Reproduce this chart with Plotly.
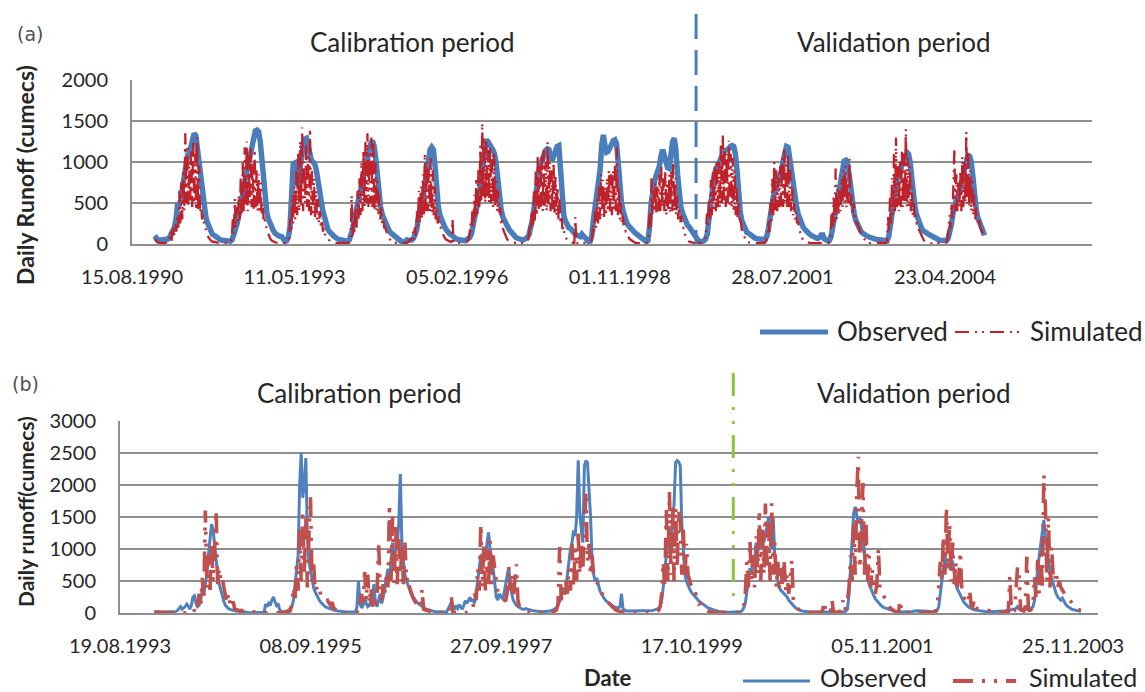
import pandas as pd
import plotly.graph_objects as go

# ---------------- Panel (a): daily runoff, 1991-2004 ----------------
YEARS_A = list(range(1991, 2005))

# observed runoff (cumecs), one row per calendar year, evenly spaced through the year
OBS_A = [
    [100, 70, 50, 45, 45, 45, 50, 55, 60, 80, 120, 160, 200, 300, 500, 480, 550, 700, 850, 1000, 1080, 1100, 1200, 1300, 1350, 1320, 1150, 950, 720, 550, 420, 340, 260, 200, 150, 120],
    [110, 90, 70, 60, 50, 45, 40, 35, 35, 30, 35, 50, 100, 180, 250, 330, 420, 550, 700, 800, 900, 980, 1050, 1150, 1280, 1380, 1390, 1370, 1250, 1000, 700, 500, 380, 300, 240, 200],
    [160, 130, 110, 100, 95, 90, 60, 30, 40, 80, 200, 700, 980, 990, 800, 700, 900, 1100, 1200, 1280, 1290, 1200, 1080, 1020, 1000, 980, 900, 800, 650, 520, 400, 300, 230, 180, 150, 120],
    [110, 90, 70, 60, 55, 50, 40, 35, 30, 30, 50, 100, 180, 300, 400, 480, 560, 680, 800, 900, 1000, 1080, 1150, 1220, 1260, 1200, 1050, 800, 600, 450, 360, 300, 250, 200, 170, 140],
    [120, 100, 90, 70, 50, 40, 25, 15, 30, 50, 45, 40, 50, 70, 110, 180, 350, 480, 520, 600, 750, 900, 1050, 1150, 1180, 1150, 950, 650, 450, 350, 280, 240, 200, 170, 140, 120],
    [110, 90, 75, 60, 55, 50, 40, 30, 40, 50, 60, 80, 120, 200, 320, 420, 520, 620, 820, 1020, 1180, 1270, 1250, 1200, 1180, 1150, 1100, 980, 780, 550, 420, 330, 280, 240, 200, 170],
    [150, 120, 100, 80, 70, 60, 55, 50, 55, 60, 80, 120, 200, 300, 450, 650, 800, 900, 980, 1050, 1100, 1140, 1160, 1150, 1050, 1020, 1080, 1150, 1190, 1200, 900, 500, 350, 280, 230, 200],
    [190, 160, 140, 120, 105, 95, 90, 120, 100, 60, 45, 30, 35, 100, 300, 450, 550, 700, 900, 1200, 1330, 1200, 1120, 1130, 1180, 1230, 1260, 1270, 1220, 1000, 700, 500, 400, 320, 270, 230],
    [200, 175, 160, 140, 125, 110, 90, 70, 50, 35, 30, 40, 200, 500, 680, 760, 830, 880, 950, 1080, 1150, 1080, 980, 930, 920, 1100, 1250, 1290, 1150, 850, 600, 450, 380, 320, 270, 230],
    [210, 180, 150, 110, 80, 50, 30, 25, 30, 40, 60, 120, 300, 500, 650, 800, 900, 950, 1000, 1050, 1100, 1120, 1140, 1150, 1160, 1190, 1200, 1190, 1100, 900, 550, 380, 280, 220, 170, 140],
    [130, 110, 95, 80, 70, 65, 60, 55, 55, 55, 60, 90, 180, 330, 480, 580, 640, 700, 780, 850, 900, 1020, 1140, 1190, 1180, 1020, 830, 700, 600, 470, 370, 300, 250, 210, 180, 150],
    [140, 120, 105, 90, 80, 75, 70, 80, 110, 110, 60, 40, 40, 45, 90, 200, 330, 430, 520, 640, 780, 930, 1010, 1020, 980, 850, 650, 480, 370, 290, 230, 190, 160, 135, 115, 100],
    [95, 85, 75, 70, 65, 60, 55, 50, 45, 40, 35, 30, 40, 90, 250, 430, 580, 680, 780, 840, 890, 940, 1000, 1060, 1120, 1100, 1000, 800, 580, 440, 350, 280, 230, 190, 160, 140],
    [130, 120, 110, 95, 85, 75, 65, 55, 45, 40, 35, 30, 40, 70, 140, 240, 380, 480, 540, 590, 640, 730, 830, 930, 1030, 1080, 1070, 1000, 820, 550, 420, 320, 260, 200, 150, 105],
]

# simulated runoff (cumecs), one row per calendar year
SIM_A = [
    [60, 40, 30, 20, 15, 10, 10, 10, 10, 10, 10, 15, 20, 30, 20, 60, 150, 40, 120, 200, 100, 250, 150, 350, 200, 650, 250, 750, 300, 900, 400, 1350, 500, 1200, 450, 1000, 500, 1150, 450, 1250, 500, 1100, 420, 1300, 400, 950, 380, 500, 300, 350, 250, 200, 160, 120, 90, 70, 50, 40, 30, 25],
    [30, 25, 20, 15, 12, 10, 10, 10, 10, 10, 10, 10, 10, 10, 10, 15, 20, 30, 80, 300, 120, 550, 200, 450, 250, 600, 300, 800, 350, 1000, 400, 1180, 450, 1250, 400, 1100, 500, 1200, 450, 1000, 400, 1150, 450, 900, 400, 850, 380, 750, 350, 500, 300, 350, 220, 200, 150, 110, 80, 60, 45, 35],
    [30, 25, 20, 18, 15, 12, 10, 10, 10, 10, 10, 10, 10, 15, 20, 40, 100, 300, 150, 600, 250, 700, 300, 900, 350, 1100, 400, 1250, 450, 1420, 400, 1000, 500, 1200, 450, 1100, 400, 1400, 350, 900, 350, 800, 300, 650, 300, 550, 250, 400, 200, 300, 150, 200, 120, 100, 80, 60, 45, 35, 30, 25],
    [25, 20, 18, 15, 12, 10, 10, 10, 10, 10, 10, 10, 10, 10, 10, 12, 15, 20, 30, 590, 80, 300, 150, 450, 200, 650, 300, 800, 350, 1000, 400, 1150, 450, 1250, 500, 1350, 450, 1100, 500, 1300, 450, 1250, 400, 1000, 400, 800, 350, 600, 300, 450, 250, 300, 200, 200, 150, 120, 90, 70, 50, 35],
    [30, 25, 20, 15, 12, 10, 10, 10, 10, 10, 10, 10, 10, 10, 12, 15, 20, 30, 60, 40, 80, 150, 60, 200, 100, 400, 200, 650, 250, 700, 300, 850, 350, 1100, 400, 1000, 400, 950, 400, 1050, 380, 900, 350, 700, 300, 500, 250, 350, 200, 200, 150, 120, 100, 80, 60, 50, 40, 35, 30, 25],
    [30, 300, 25, 15, 12, 10, 10, 10, 10, 10, 10, 10, 10, 12, 15, 20, 30, 50, 100, 250, 150, 400, 200, 600, 300, 800, 350, 900, 450, 1200, 500, 1470, 550, 1300, 500, 1250, 550, 1150, 500, 1200, 500, 1050, 450, 1100, 450, 800, 400, 650, 350, 450, 250, 300, 180, 150, 110, 80, 60, 45, 35, 30],
    [25, 20, 18, 15, 12, 10, 10, 10, 10, 10, 10, 10, 10, 10, 12, 15, 20, 40, 100, 250, 120, 400, 200, 650, 250, 900, 350, 1060, 400, 950, 450, 1100, 400, 1150, 450, 1000, 400, 1240, 450, 1000, 400, 900, 400, 1000, 380, 850, 350, 700, 300, 550, 250, 350, 180, 220, 120, 90, 60, 40, 30, 25],
    [25, 20, 18, 15, 12, 330, 12, 10, 10, 10, 10, 10, 10, 10, 10, 10, 10, 10, 10, 10, 15, 30, 80, 250, 150, 400, 200, 550, 250, 700, 300, 850, 350, 780, 300, 700, 350, 800, 400, 900, 400, 850, 350, 900, 400, 950, 400, 1180, 350, 700, 300, 500, 250, 350, 200, 250, 150, 150, 100, 80],
    [60, 50, 40, 30, 25, 20, 15, 12, 10, 10, 10, 10, 10, 10, 10, 10, 10, 15, 30, 100, 400, 200, 800, 350, 650, 400, 750, 350, 700, 400, 850, 400, 940, 450, 800, 400, 900, 350, 750, 400, 850, 380, 900, 400, 1000, 400, 800, 350, 600, 300, 450, 250, 350, 200, 200, 150, 100, 70, 50, 35],
    [30, 25, 20, 15, 12, 10, 10, 10, 10, 10, 10, 10, 10, 12, 15, 20, 40, 150, 370, 200, 550, 300, 780, 350, 900, 400, 950, 400, 1020, 450, 1000, 450, 1200, 500, 1330, 500, 1150, 450, 1100, 500, 1260, 450, 1100, 450, 1050, 400, 900, 350, 700, 300, 500, 250, 300, 180, 150, 100, 70, 50, 35, 25],
    [20, 15, 12, 10, 10, 10, 10, 10, 10, 10, 10, 10, 10, 10, 10, 12, 15, 20, 40, 100, 300, 150, 500, 250, 800, 350, 1000, 400, 900, 400, 800, 450, 950, 450, 1050, 450, 1180, 500, 1000, 450, 1100, 450, 900, 400, 700, 350, 500, 300, 400, 250, 280, 180, 150, 100, 70, 50, 40, 30, 25, 20],
    [20, 15, 12, 10, 10, 10, 10, 10, 10, 10, 10, 10, 10, 10, 10, 10, 10, 10, 10, 10, 12, 15, 40, 150, 400, 200, 600, 250, 920, 300, 700, 350, 650, 400, 800, 450, 900, 500, 950, 450, 800, 500, 1040, 450, 600, 350, 500, 300, 350, 250, 250, 200, 180, 150, 120, 100, 80, 60, 45, 30],
    [15, 12, 10, 10, 10, 10, 10, 10, 10, 10, 10, 10, 10, 10, 10, 10, 10, 10, 12, 15, 30, 330, 150, 600, 250, 800, 350, 1100, 400, 1300, 450, 950, 400, 1000, 450, 1150, 450, 1100, 500, 1400, 450, 1050, 450, 950, 400, 700, 350, 500, 300, 350, 250, 250, 180, 150, 120, 90, 70, 50, 35, 25],
    [25, 20, 15, 12, 10, 10, 10, 10, 10, 10, 10, 10, 10, 10, 10, 10, 10, 10, 12, 15, 25, 60, 150, 350, 180, 500, 300, 800, 1160, 400, 850, 400, 750, 450, 900, 400, 1060, 450, 1000, 500, 1370, 500, 1100, 450, 900, 400, 800, 350, 600, 300, 450, 370, 250, 300, 200, 180, 140, 120, 100, 90],
]

TICKS_A = ["15.08.1990", "11.05.1993", "05.02.1996", "01.11.1998", "28.07.2001", "23.04.2004"]
YTICKS_A = [0, 500, 1000, 1500, 2000]
SPLIT_A = "2000-02-13"

# ---------------- Panel (b): daily runoff, 1994-2003 ----------------
YEARS_B = list(range(1994, 2004))

OBS_B = [
    [20, 18, 15, 15, 15, 15, 15, 15, 15, 15, 15, 15, 20, 20, 25, 40, 70, 100, 60, 80, 100, 140, 110, 60, 120, 250, 270, 150, 100, 120, 200, 350, 300, 450, 600, 900, 1200, 1390, 1300, 1050, 800, 600, 450, 350, 250, 180, 120, 90, 70, 55, 45, 40, 35, 30, 25, 20, 20, 18, 15, 15],
    [5, 5, 5, 5, 5, 5, 5, 5, 5, 5, 5, 10, 140, 100, 150, 120, 200, 250, 180, 120, 150, 60, 20, 15, 20, 20, 25, 40, 80, 100, 200, 450, 600, 900, 2000, 2500, 1800, 2000, 2420, 1200, 800, 650, 500, 400, 330, 280, 230, 190, 160, 130, 110, 90, 80, 70, 60, 50, 45, 40, 35, 30],
    [25, 20, 18, 15, 15, 15, 15, 15, 15, 15, 20, 80, 500, 150, 80, 120, 250, 150, 100, 120, 180, 250, 450, 150, 100, 200, 300, 150, 250, 400, 550, 690, 500, 800, 1100, 900, 1000, 1050, 1400, 2170, 1100, 800, 600, 500, 420, 350, 300, 260, 220, 190, 160, 140, 120, 100, 85, 70, 60, 50, 45, 40],
    [30, 25, 22, 20, 20, 18, 15, 15, 15, 20, 60, 120, 170, 100, 60, 100, 70, 130, 90, 60, 120, 190, 150, 200, 245, 180, 220, 150, 300, 500, 700, 900, 800, 1000, 900, 1100, 1260, 1000, 800, 700, 450, 250, 200, 300, 260, 220, 300, 450, 600, 710, 500, 300, 200, 150, 120, 100, 80, 70, 60, 55],
    [70, 60, 50, 45, 40, 35, 30, 30, 25, 25, 20, 20, 20, 20, 20, 25, 30, 40, 50, 60, 80, 120, 180, 250, 350, 300, 400, 600, 800, 1000, 1100, 1290, 1200, 1500, 2385, 1600, 1300, 1100, 2300, 2380, 2350, 2000, 1500, 800, 600, 500, 550, 450, 350, 300, 250, 220, 190, 170, 150, 130, 120, 100, 90, 80],
    [80, 100, 300, 60, 40, 35, 30, 30, 30, 30, 30, 30, 30, 30, 30, 30, 30, 30, 30, 35, 35, 40, 40, 45, 50, 60, 70, 100, 200, 400, 700, 900, 1100, 1300, 1200, 1500, 1700, 2350, 2380, 2360, 2300, 1400, 900, 600, 500, 420, 380, 330, 300, 270, 240, 210, 190, 170, 150, 130, 110, 95, 80, 70],
    [60, 50, 40, 35, 30, 25, 20, 18, 15, 12, 10, 10, 10, 10, 10, 10, 10, 10, 15, 20, 40, 80, 150, 300, 500, 700, 600, 900, 800, 1100, 900, 1200, 1000, 1300, 1100, 1250, 1350, 1500, 1200, 1000, 1500, 900, 700, 500, 400, 350, 330, 300, 280, 250, 200, 170, 140, 110, 90, 70, 55, 45, 35, 30],
    [25, 20, 18, 15, 12, 10, 10, 10, 10, 10, 10, 10, 10, 10, 10, 10, 10, 10, 10, 10, 10, 10, 10, 10, 15, 15, 20, 30, 60, 300, 700, 1200, 1560, 1660, 1500, 1400, 1500, 1350, 1200, 900, 700, 550, 450, 380, 320, 270, 220, 190, 160, 130, 110, 90, 80, 70, 60, 50, 40, 35, 30, 25],
    [20, 18, 15, 15, 15, 15, 15, 15, 15, 20, 25, 30, 35, 30, 35, 30, 35, 30, 30, 25, 25, 20, 20, 20, 25, 30, 40, 100, 300, 500, 700, 880, 800, 700, 750, 830, 800, 600, 450, 380, 330, 280, 220, 180, 150, 120, 100, 85, 70, 60, 50, 45, 40, 35, 30, 25, 25, 20, 20, 20],
    [20, 20, 20, 20, 20, 20, 20, 20, 25, 30, 30, 40, 50, 40, 45, 60, 50, 70, 100, 60, 50, 60, 50, 70, 60, 50, 60, 80, 100, 200, 400, 700, 900, 1100, 1300, 1450, 1200, 1000, 800, 650, 550, 450, 350, 300, 250, 220, 200, 230, 180, 140, 110, 90, 70, 60, 50, 45, 40, 35, 30, 25],
]

SIM_B = [
    [10, 10, 10, 10, 10, 10, 10, 10, 10, 10, 10, 10, 8, 5, 0, 0, 0, 0, 0, 0, 0, 0, 0, 0, 20, 0, 50, 0, 150, 300, 100, 550, 200, 1600, 400, 900, 300, 1100, 500, 1000, 1600, 450, 700, 500, 550, 400, 250, 150, 310, 120, 80, 180, 60, 50, 45, 40, 40, 35, 50, 45],
    [30, 25, 20, 15, 12, 10, 10, 10, 8, 5, 0, 0, 0, 0, 0, 0, 0, 0, 0, 0, 0, 0, 0, 0, 0, 10, 30, 20, 40, 150, 400, 200, 800, 350, 1300, 500, 1600, 600, 1500, 400, 1200, 1810, 500, 800, 350, 400, 300, 350, 250, 220, 200, 190, 200, 150, 120, 170, 80, 60, 40, 30],
    [10, 10, 5, 0, 0, 0, 0, 0, 0, 10, 0, 20, 0, 50, 300, 100, 640, 200, 600, 150, 400, 100, 250, 80, 300, 1100, 400, 200, 450, 300, 600, 400, 1700, 500, 1500, 400, 1400, 450, 1200, 500, 1080, 450, 1100, 500, 560, 400, 300, 250, 200, 150, 120, 100, 80, 375, 60, 50, 40, 30, 25, 20],
    [10, 8, 5, 5, 5, 5, 5, 5, 5, 5, 5, 5, 245, 5, 5, 10, 5, 20, 5, 10, 5, 10, 5, 20, 10, 30, 80, 300, 200, 700, 350, 1390, 400, 1100, 350, 1000, 400, 1130, 450, 900, 700, 500, 320, 300, 270, 240, 210, 180, 300, 740, 350, 600, 250, 500, 760, 200, 100, 80, 60, 40],
    [20, 15, 10, 10, 5, 5, 5, 5, 5, 5, 5, 5, 5, 5, 5, 5, 10, 15, 20, 30, 50, 150, 1030, 200, 400, 250, 500, 300, 700, 350, 1080, 400, 1000, 500, 1240, 600, 1100, 700, 1500, 1900, 800, 1080, 600, 900, 560, 500, 480, 420, 380, 330, 280, 240, 200, 170, 150, 120, 100, 70, 50, 40],
    [30, 20, 10, 5, 5, 5, 0, 0, 0, 0, 0, 0, 0, 0, 0, 0, 0, 0, 0, 5, 5, 5, 5, 5, 10, 20, 40, 100, 300, 800, 400, 1650, 500, 1890, 600, 1700, 500, 1650, 700, 1600, 1400, 600, 1300, 550, 1080, 600, 500, 400, 350, 300, 300, 250, 140, 150, 100, 80, 60, 40, 30, 20],
    [10, 8, 5, 5, 5, 5, 5, 5, 5, 5, 5, 5, 5, 5, 5, 5, 5, 5, 5, 10, 30, 100, 300, 800, 400, 1130, 500, 900, 400, 1200, 600, 1600, 500, 1300, 600, 1710, 700, 1400, 500, 1715, 600, 1100, 400, 800, 350, 700, 400, 830, 350, 600, 300, 500, 830, 200, 150, 100, 70, 50, 40, 30],
    [10, 10, 10, 10, 10, 10, 10, 10, 10, 10, 10, 10, 50, 180, 10, 10, 10, 10, 200, 10, 10, 10, 10, 20, 50, 200, 40, 100, 200, 400, 900, 500, 1400, 600, 1870, 2440, 700, 1600, 2030, 600, 1400, 500, 900, 400, 700, 350, 300, 450, 1010, 380, 330, 280, 230, 180, 140, 100, 70, 50, 30, 20],
    [10, 10, 200, 10, 5, 5, 5, 5, 5, 5, 5, 5, 5, 5, 5, 5, 5, 5, 5, 5, 5, 5, 5, 10, 10, 20, 100, 400, 800, 500, 1200, 600, 1660, 700, 1400, 500, 1100, 450, 800, 400, 600, 960, 300, 250, 200, 180, 150, 360, 120, 100, 200, 80, 70, 65, 60, 55, 50, 50, 45, 45],
    [40, 35, 30, 25, 20, 15, 12, 10, 10, 10, 10, 10, 20, 570, 20, 30, 40, 360, 720, 590, 50, 40, 30, 100, 880, 50, 40, 60, 150, 570, 200, 830, 300, 1000, 400, 2160, 1660, 500, 1500, 400, 1040, 600, 500, 650, 400, 500, 400, 360, 300, 270, 250, 220, 180, 150, 120, 100, 80, 60, 50, 40],
]

TICKS_B = ["19.08.1993", "08.09.1995", "27.09.1997", "17.10.1999", "05.11.2001", "25.11.2003"]
YTICKS_B = [0, 500, 1000, 1500, 2000, 2500, 3000]
SPLIT_B = "2000-03-28"

# ---------------- styling ----------------
W, H = 1145, 692
FONT = "Lato"
TXT = "#262626"
GRID = "#8e8e8e"
BLUE_A, RED_A = "#4a7ebb", "#c0222c"
BLUE_B, RED_B = "#4f81bd", "#c0504d"
GREEN = "#8cc63e"
DASH_A = "14px,6px,2px,5px,2px,6px"
DASH_B = "20px,9px,3px,9px,3px,9px"


def expand(years, rows):
    """Spread each yearly row evenly over its calendar year."""
    xs, ys = [], []
    for yr, row in zip(years, rows):
        start = pd.Timestamp(year=yr, month=1, day=1)
        ndays = (pd.Timestamp(year=yr + 1, month=1, day=1) - start).days
        step = ndays / len(row)
        for i, v in enumerate(row):
            xs.append((start + pd.Timedelta(days=i * step)).strftime("%Y-%m-%d %H:%M"))
            ys.append(v)
    return xs, ys


def px(x):
    return x / W


def py(y):
    return 1 - y / H


obs_a_x, obs_a_y = expand(YEARS_A, OBS_A)
sim_a_x, sim_a_y = expand(YEARS_A, SIM_A)
obs_b_x, obs_b_y = expand(YEARS_B, OBS_B)
sim_b_x, sim_b_y = expand(YEARS_B, SIM_B)

ticks_a = pd.to_datetime(TICKS_A, format="%d.%m.%Y").strftime("%Y-%m-%d").tolist()
ticks_b = pd.to_datetime(TICKS_B, format="%d.%m.%Y").strftime("%Y-%m-%d").tolist()

fig = go.Figure()
fig.add_trace(go.Scatter(x=obs_a_x, y=obs_a_y, mode="lines", name="Observed",
                         line=dict(color=BLUE_A, width=5.5), xaxis="x", yaxis="y", showlegend=False))
fig.add_trace(go.Scatter(x=sim_a_x, y=sim_a_y, mode="lines", name="Simulated",
                         line=dict(color=RED_A, width=2.3, dash=DASH_A), xaxis="x", yaxis="y", showlegend=False))
fig.add_trace(go.Scatter(x=obs_b_x, y=obs_b_y, mode="lines", name="Observed",
                         line=dict(color=BLUE_B, width=3), xaxis="x2", yaxis="y2", showlegend=False))
fig.add_trace(go.Scatter(x=sim_b_x, y=sim_b_y, mode="lines", name="Simulated",
                         line=dict(color=RED_B, width=3.6, dash=DASH_B), xaxis="x2", yaxis="y2", showlegend=False))

tickfont = dict(family=FONT, size=20, color=TXT)
common_x = dict(type="date", showgrid=False, showline=True, linecolor=GRID, linewidth=2,
                ticks="", tickfont=tickfont, ticklabelstandoff=14, zeroline=False, automargin=False)
common_y = dict(showgrid=True, gridcolor=GRID, gridwidth=2, showline=True, linecolor=GRID,
                linewidth=2, ticks="", tickfont=tickfont, ticklabelstandoff=18, zeroline=False,
                automargin=False)

fig.update_layout(
    width=W, height=H, margin=dict(l=0, r=0, t=0, b=0, autoexpand=False),
    paper_bgcolor="white", plot_bgcolor="white",
    font=dict(family=FONT, color=TXT),
    xaxis=dict(common_x, domain=[px(132), px(1092)], anchor="y",
               range=["1990-08-15", "2006-10-14"], tickvals=ticks_a, ticktext=TICKS_A),
    yaxis=dict(common_y, domain=[py(244), py(80)], anchor="x", range=[0, 2000],
               tickvals=YTICKS_A, ticktext=[str(v) for v in YTICKS_A]),
    xaxis2=dict(common_x, domain=[px(120), px(1098)], anchor="y2",
                range=["1993-08-19", "2004-03-02"], tickvals=ticks_b, ticktext=TICKS_B),
    yaxis2=dict(common_y, domain=[py(613), py(421)], anchor="x2", range=[0, 3000],
                tickvals=YTICKS_B, ticktext=[str(v) for v in YTICKS_B]),
)

shapes = [
    # calibration / validation split markers
    dict(type="line", xref="x", yref="paper", x0=SPLIT_A, x1=SPLIT_A, y0=py(14), y1=py(244),
         line=dict(color=BLUE_A, width=3, dash="25px,11px")),
    dict(type="line", xref="x2", yref="paper", x0=SPLIT_B, x1=SPLIT_B, y0=py(373), y1=py(598),
         line=dict(color=GREEN, width=3, dash="23px,11px,3px,11px,3px,11px")),
    # legend samples, panel (a)
    dict(type="line", xref="paper", yref="paper", x0=px(760), x1=px(828), y0=py(332), y1=py(332),
         line=dict(color=BLUE_A, width=5)),
    dict(type="line", xref="paper", yref="paper", x0=px(955), x1=px(1021), y0=py(332), y1=py(332),
         line=dict(color=RED_A, width=2, dash=DASH_A)),
    # legend samples, panel (b)
    dict(type="line", xref="paper", yref="paper", x0=px(743), x1=px(810), y0=py(681), y1=py(681),
         line=dict(color=BLUE_B, width=3)),
    dict(type="line", xref="paper", yref="paper", x0=px(953), x1=px(1016), y0=py(681), y1=py(681),
         line=dict(color=RED_B, width=4, dash=DASH_B)),
]


def label(text, x, y, size, bold=False, anchor="center", angle=0, color=TXT, family=FONT):
    return dict(text=f"<b>{text}</b>" if bold else text, x=px(x), y=py(y), xref="paper", yref="paper",
                xanchor=anchor, yanchor="middle", showarrow=False, textangle=angle,
                font=dict(family=family, size=size, color=color))


annotations = [
    label("(a)", 30, 34, 19, color="#505050", family="DejaVu Sans"),
    label("Calibration period", 412, 42, 26),
    label("Validation period", 894, 42, 26),
    label("Daily Runoff (cumecs)", 25, 175, 23, bold=True, angle=-90),
    label("Observed", 835, 331, 26, anchor="left"),
    label("Simulated", 1028, 331, 26, anchor="left"),
    label("(b)", 25, 384, 19, color="#505050", family="DejaVu Sans"),
    label("Calibration period", 359, 393, 26),
    label("Validation period", 914, 393, 26),
    label("Daily runoff(cumecs)", 25, 512, 21, bold=True, angle=-90),
    label("Date", 608, 677, 22, bold=True),
    label("Observed", 818, 677, 25, anchor="left"),
    label("Simulated", 1027, 677, 25, anchor="left"),
]

fig.update_layout(shapes=shapes, annotations=annotations)
fig.write_html("out.html")
